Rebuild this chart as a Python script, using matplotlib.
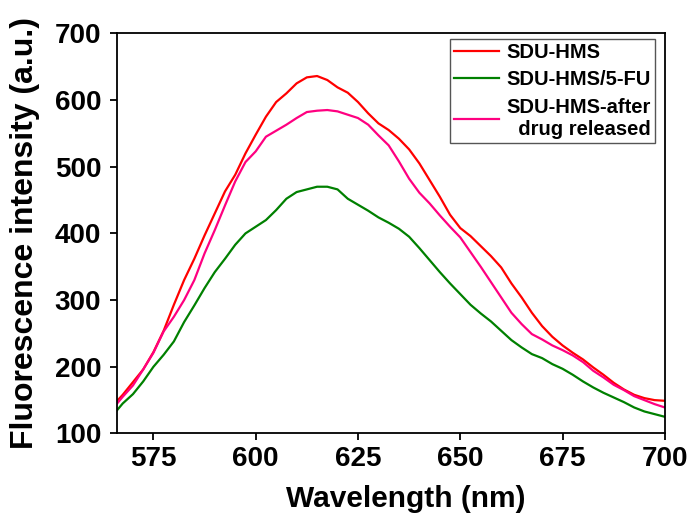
import numpy as np
import matplotlib.pyplot as plt

plt.rcParams['font.family'] = ['Liberation Sans', 'DejaVu Sans']
plt.rcParams['font.weight'] = 'bold'

# emission spectra (a.u.), 566 nm then every 2.5 nm
wavelength = [566] + list(np.arange(567.5, 700.1, 2.5))
sdu_hms = [148, 158, 177, 196, 222, 254, 293, 330, 362, 397, 430, 463, 488, 520,
           548, 575, 597, 610, 625, 634, 636, 630, 619, 611, 597, 580, 565, 555,
           542, 526, 505, 480, 455, 428, 408, 396, 381, 366, 349, 325, 304, 281,
           261, 245, 232, 221, 211, 199, 188, 176, 166, 158, 153, 150, 149]
sdu_hms_5fu = [134, 145, 159, 178, 200, 218, 238, 267, 292, 318, 342, 362, 383, 400,
               410, 420, 435, 452, 462, 466, 470, 470, 466, 452, 443, 434, 424, 416,
               407, 395, 378, 360, 342, 325, 309, 293, 280, 268, 254, 240, 229, 219,
               213, 204, 197, 188, 178, 169, 161, 154, 147, 139, 133, 129, 125]
sdu_hms_after = [144, 155, 172, 196, 221, 253, 275, 300, 330, 370, 405, 442, 478, 507,
                 523, 545, 554, 563, 573, 582, 584, 585, 583, 578, 573, 563, 547, 532,
                 508, 482, 461, 445, 427, 410, 394, 372, 350, 327, 304, 281, 264, 249,
                 241, 232, 225, 217, 207, 194, 184, 173, 165, 156, 150, 144, 139]

fig = plt.figure(figsize=(6.94, 5.21), dpi=100)
ax = fig.add_axes([0.168, 0.168, 0.790, 0.768])

ax.plot(wavelength, sdu_hms, color='#ff0000', lw=1.6, label='SDU-HMS')
ax.plot(wavelength, sdu_hms_5fu, color='#008000', lw=1.6, label='SDU-HMS/5-FU')
ax.plot(wavelength, sdu_hms_after, color='#ff0080', lw=1.6,
        label='SDU-HMS-after\n  drug released')

ax.set_xlim(566, 700)
ax.set_ylim(100, 700)
ax.set_xticks([575, 600, 625, 650, 675, 700])
ax.set_yticks(range(100, 701, 100))
ax.tick_params(direction='out', length=5, width=1.3, labelsize=20)
ax.tick_params(axis='x', pad=4)
ax.tick_params(axis='y', pad=6)
for s in ax.spines.values():
    s.set_linewidth(1.3)

ax.set_xlabel('Wavelength (nm)', fontsize=21.5, fontweight='bold')
ax.set_ylabel('Fluorescence intensity (a.u.)', fontsize=23, fontweight='bold')
ax.xaxis.set_label_coords(0.528, -0.13)
ax.yaxis.set_label_coords(-0.14, 0.5)

leg = ax.legend(loc='upper right', bbox_to_anchor=(0.982, 0.986), borderaxespad=0,
                fontsize=14.5, fancybox=False, edgecolor='#555555', framealpha=1,
                handlelength=2.2, handletextpad=0.4, borderpad=0.2, labelspacing=0.42)
leg.get_frame().set_linewidth(1.0)

plt.savefig('out.png', dpi=100)
